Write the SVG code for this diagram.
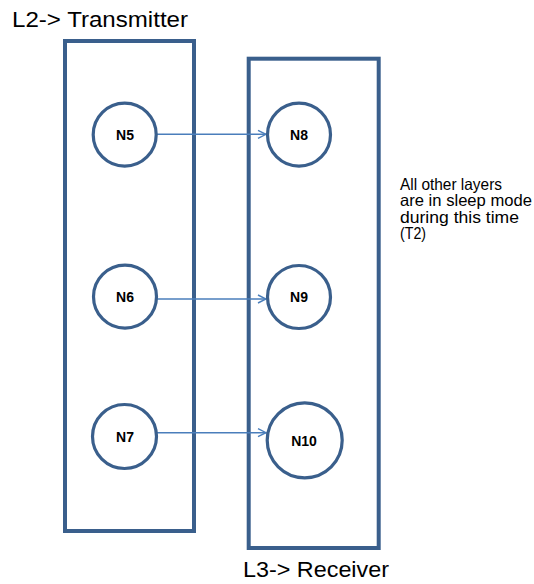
<svg xmlns="http://www.w3.org/2000/svg" width="534" height="584" viewBox="0 0 534 584">
  <defs>
    <style>
      .layer { fill: none; stroke: #3a5f8c; stroke-width: 4; }
      .node { fill: #ffffff; stroke: #3a5f8c; stroke-width: 3.2; }
      .nlabel { font-family: "Liberation Sans", Arial, sans-serif; font-weight: bold; font-size: 14px; fill: #000; text-anchor: middle; }
      .title { font-family: "Liberation Sans", Arial, sans-serif; font-size: 22px; fill: #000; }
      .note { font-family: "Liberation Sans", Arial, sans-serif; font-size: 16.5px; fill: #000; }
      .link { fill: none; stroke: #4a7ebb; stroke-width: 1.6; }
    </style>
    <marker id="open" viewBox="0 0 10 10" refX="9" refY="5" markerWidth="10" markerHeight="10" markerUnits="userSpaceOnUse" orient="auto">
      <path d="M1,1 L9,5 L1,9" fill="none" stroke="#4a7ebb" stroke-width="1.4"/>
    </marker>
    <linearGradient id="fade" x1="157" y1="0" x2="267" y2="0" gradientUnits="userSpaceOnUse">
      <stop offset="0" stop-color="#c9dbf0"/>
      <stop offset="1" stop-color="#4a7ebb"/>
    </linearGradient>
  </defs>

  <rect width="534" height="584" fill="#ffffff"/>

  <!-- layer boxes -->
  <g id="layer-L2">
    <rect class="layer" x="65" y="41" width="129" height="490"/>
    <text class="title" x="12" y="27" textLength="176" lengthAdjust="spacingAndGlyphs">L2-&gt; Transmitter</text>
  </g>
  <g id="layer-L3">
    <rect class="layer" x="248.7" y="58.7" width="130" height="489.3"/>
    <text class="title" x="243" y="577" textLength="146" lengthAdjust="spacingAndGlyphs">L3-&gt; Receiver</text>
  </g>

  <!-- connectors -->
  <g id="connectors">
    <line class="link" x1="157" y1="134.3" x2="266" y2="134.3" marker-end="url(#open)"/>
    <line class="link" x1="157" y1="299" x2="266" y2="299" stroke="url(#fade)" marker-end="url(#open)"/>
    <line class="link" x1="157" y1="432.7" x2="266" y2="432.7" marker-end="url(#open)"/>
  </g>

  <!-- nodes -->
  <g id="N5">
    <circle class="node" cx="124.7" cy="134.7" r="31.5"/>
    <text class="nlabel" x="125" y="140">N5</text>
  </g>
  <g id="N6">
    <circle class="node" cx="125" cy="296.7" r="31.5"/>
    <text class="nlabel" x="125" y="302">N6</text>
  </g>
  <g id="N7">
    <circle class="node" cx="124.5" cy="436.5" r="32"/>
    <text class="nlabel" x="125" y="442">N7</text>
  </g>
  <g id="N8">
    <circle class="node" cx="299" cy="134.7" r="31.5"/>
    <text class="nlabel" x="299" y="140">N8</text>
  </g>
  <g id="N9">
    <circle class="node" cx="299" cy="297" r="31.5"/>
    <text class="nlabel" x="299" y="302">N9</text>
  </g>
  <g id="N10">
    <circle class="node" cx="304.7" cy="440.3" r="37.5"/>
    <text class="nlabel" x="304" y="446">N10</text>
  </g>

  <!-- side note -->
  <g id="note">
    <text class="note" x="400" y="189.5" textLength="102" lengthAdjust="spacingAndGlyphs">All other layers</text>
    <text class="note" x="400" y="206" textLength="132" lengthAdjust="spacingAndGlyphs">are in sleep mode</text>
    <text class="note" x="400" y="222.5" textLength="119" lengthAdjust="spacingAndGlyphs">during this time</text>
    <text class="note" x="400" y="239" textLength="26" lengthAdjust="spacingAndGlyphs">(T2)</text>
  </g>
</svg>
